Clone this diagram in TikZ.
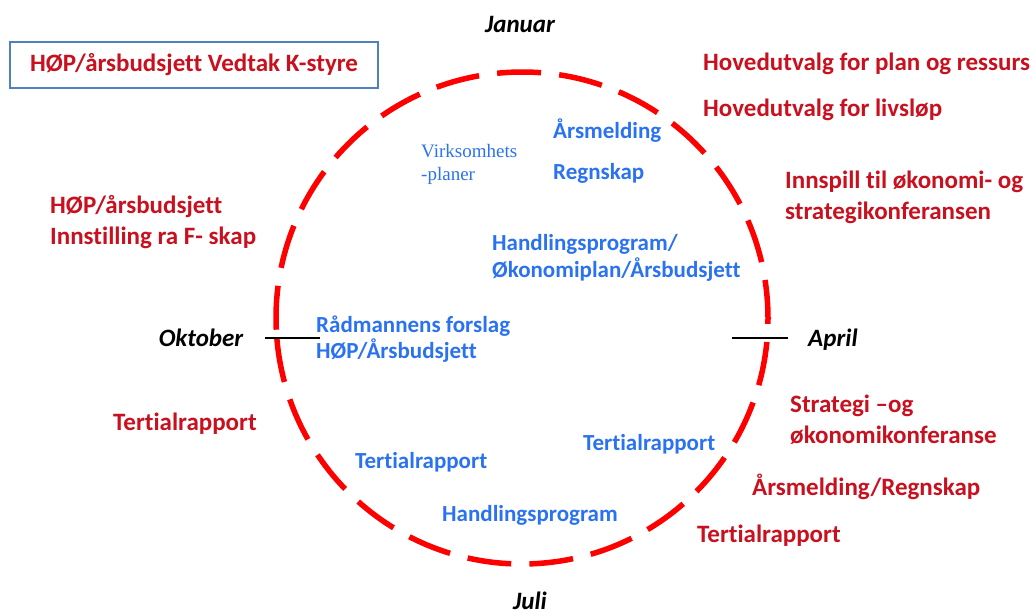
\documentclass[tikz,border=0pt]{standalone}
\usepackage{fontspec}
\setmainfont{Carlito}[RawFeature=-liga]
\newfontfamily\serifv{Liberation Serif}
\definecolor{txtred}{HTML}{C8101E}
\definecolor{txtblue}{HTML}{2A72F0}
\definecolor{ringred}{HTML}{FF0000}
\definecolor{boxblue}{HTML}{4F81BD}
\begin{document}
\begin{tikzpicture}[x=1pt,y=-1pt,
  redtxt/.style={text=txtred,font=\fontsize{25}{31}\selectfont\bfseries,anchor=west,align=left,inner sep=0pt},
  bluetxt/.style={text=txtblue,font=\fontsize{23}{26.5}\selectfont\bfseries,anchor=west,align=left,inner sep=0pt},
  monthtxt/.style={text=black,font=\fontsize{25}{28}\selectfont\bfseries\itshape,inner sep=0pt},
  ring/.style={draw=ringred,line width=5.5pt,dash pattern=on 44pt off 18.2pt,dash phase=55pt},
  tick/.style={draw=black,line width=1.2pt}]
\useasboundingbox (0,0) rectangle (1033,614);
\coordinate (c) at (522,318);
\draw[ring] (c) ++(175.6:246) arc[start angle=175.6,end angle=535.6,radius=246];
\coordinate (tl1) at (265,338); \coordinate (tl2) at (320,338);
\coordinate (tr1) at (732,338); \coordinate (tr2) at (788,338);
\draw[tick] (tl1) -- (tl2);
\draw[tick] (tr1) -- (tr2);
\node[monthtxt] (jan) at (520,24) {Januar};
\node[monthtxt] (okt) at (201,338) {Oktober};
\node[monthtxt,anchor=west] (apr) at (808,340) {April};
\node[monthtxt] (jul) at (530,601) {Juli};
\node[draw=boxblue,line width=1.8pt,minimum width=368pt,minimum height=46pt,inner sep=0pt] (box) at (194,65) {};
\node[redtxt,anchor=center] (vedtak) at (box.center) {HØP/årsbudsjett Vedtak K-styre};
\node[redtxt] (hplan) at (703,64) {Hovedutvalg for plan og ressurs};
\node[redtxt] (hliv) at (703,110) {Hovedutvalg for livsløp};
\node[redtxt] (innspill) at (785,197) {Innspill til økonomi- og\\strategikonferansen};
\node[redtxt] (innst) at (50,222) {HØP/årsbudsjett\\Innstilling ra F- skap};
\node[redtxt] (tert1) at (113,424) {Tertialrapport};
\node[redtxt] (strat) at (790,420) {Strategi –og\\økonomikonferanse};
\node[redtxt] (aarsreg) at (752,487) {Årsmelding/Regnskap};
\node[redtxt] (tert2) at (697,536) {Tertialrapport};
\node[bluetxt] (aars) at (553,131) {Årsmelding};
\node[bluetxt] (regn) at (553,173) {Regnskap};
\node[text=txtblue,font=\serifv\fontsize{19}{23}\selectfont,anchor=west,align=left,inner sep=0pt] (virk) at (421,164) {Virksomhets\\-planer};
\node[bluetxt] (hp) at (492,258) {Handlingsprogram/\\Økonomiplan/Årsbudsjett};
\node[bluetxt] (radm) at (316,339) {Rådmannens forslag\\HØP/Årsbudsjett};
\node[bluetxt] (tert3) at (583,444) {Tertialrapport};
\node[bluetxt] (tert4) at (355,462) {Tertialrapport};
\node[bluetxt] (hp2) at (442,515) {Handlingsprogram};
\end{tikzpicture}
\end{document}
